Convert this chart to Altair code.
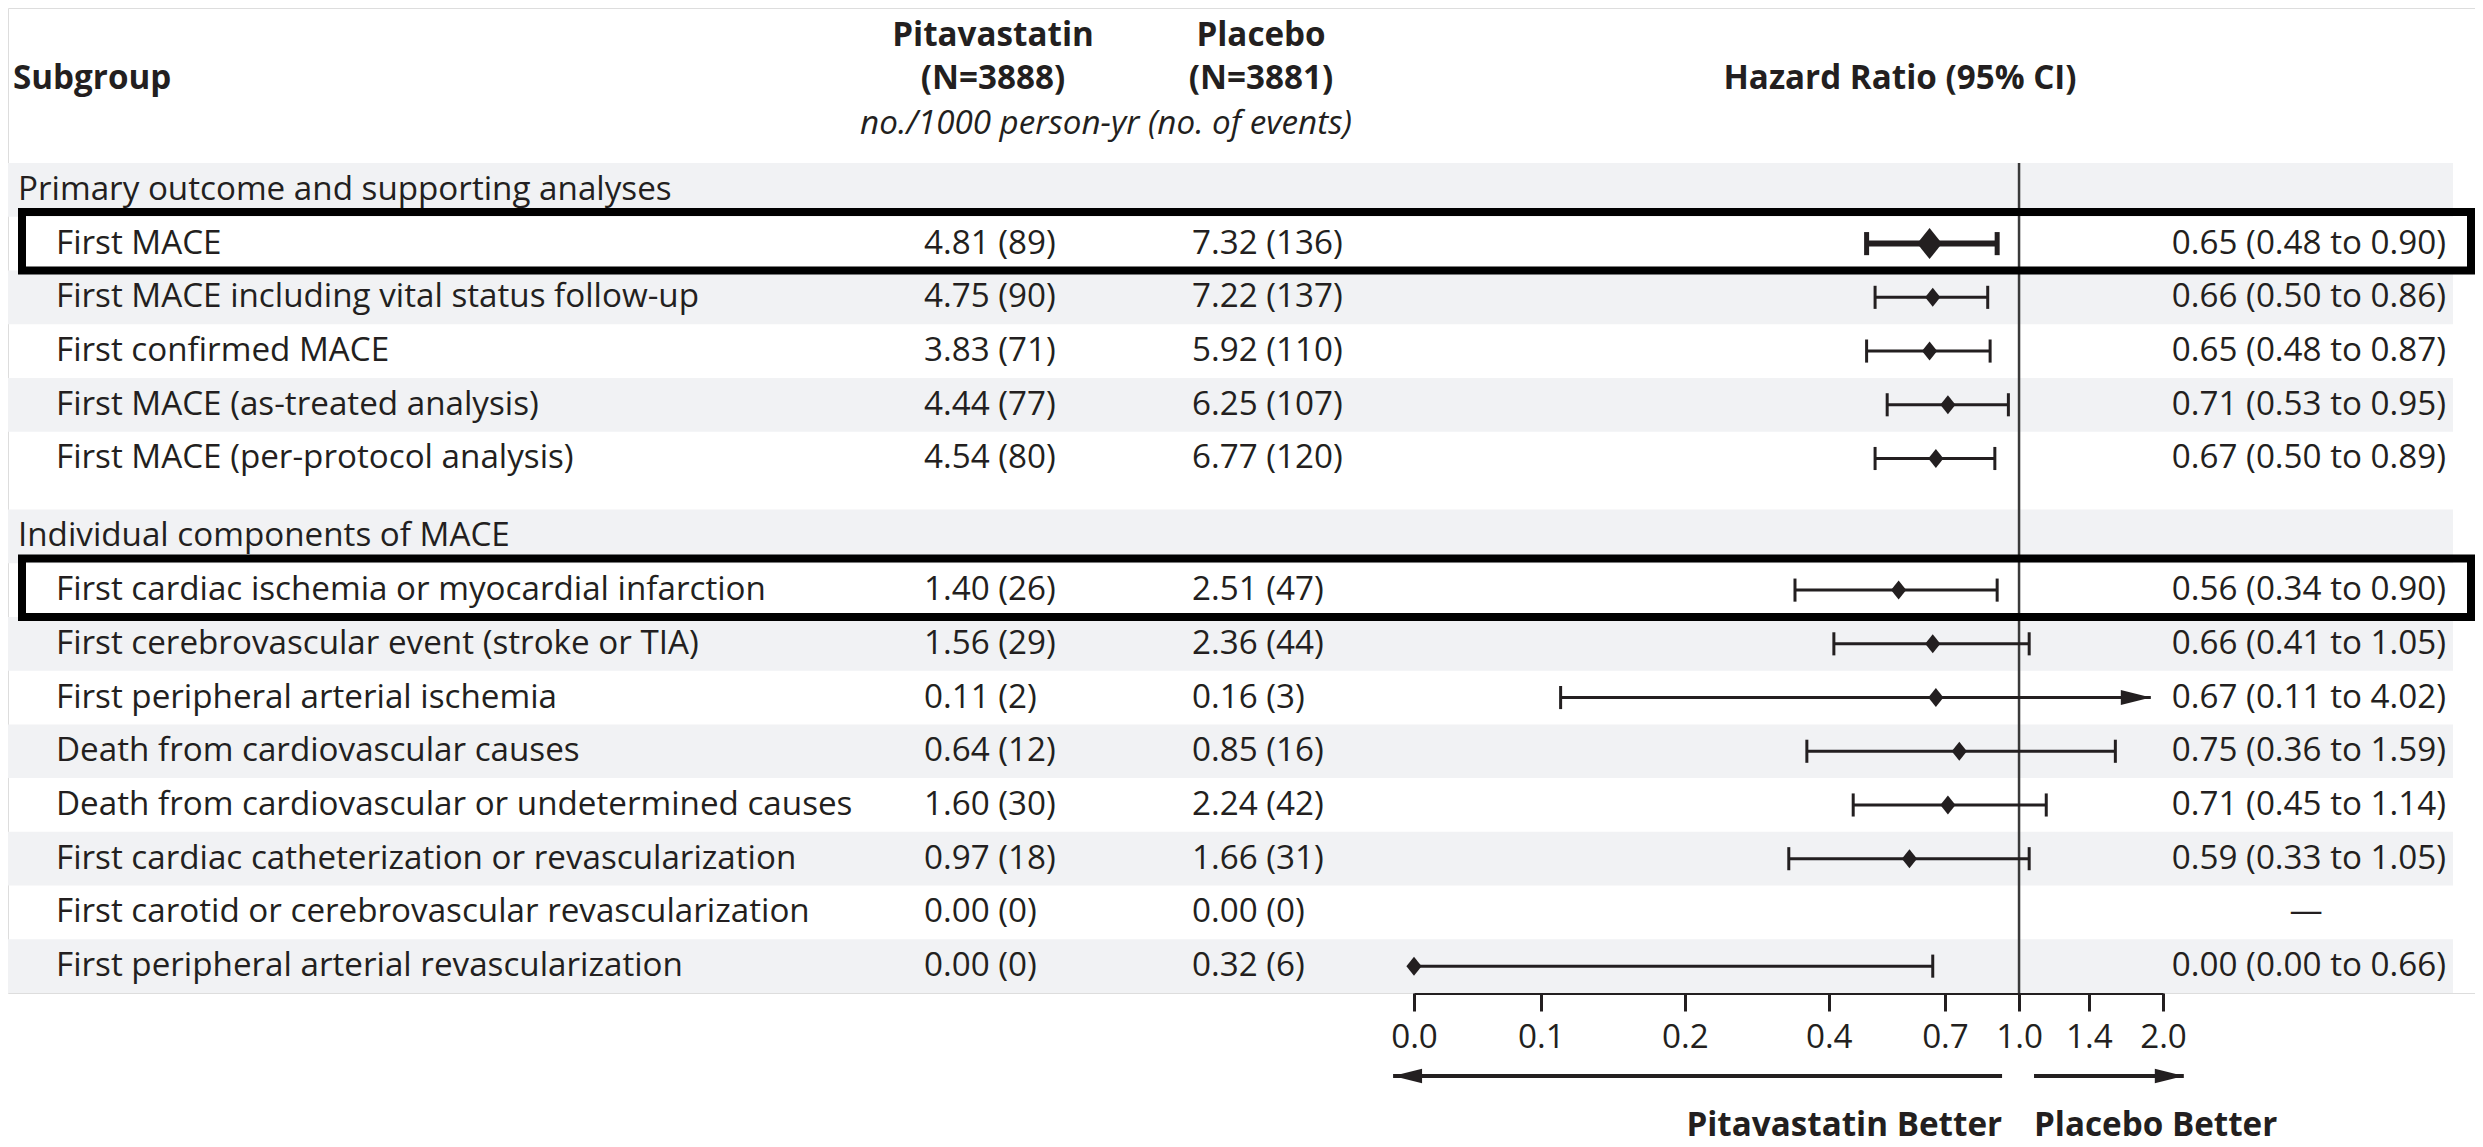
import altair as alt
import pandas as pd

# ---------------- data ----------------
section_titles = ["Primary outcome and supporting analyses", "Individual components of MACE"]
section_sizes = [5, 8]
subgroups = [
    "First MACE",
    "First MACE including vital status follow-up",
    "First confirmed MACE",
    "First MACE (as-treated analysis)",
    "First MACE (per-protocol analysis)",
    "First cardiac ischemia or myocardial infarction",
    "First cerebrovascular event (stroke or TIA)",
    "First peripheral arterial ischemia",
    "Death from cardiovascular causes",
    "Death from cardiovascular or undetermined causes",
    "First cardiac catheterization or revascularization",
    "First carotid or cerebrovascular revascularization",
    "First peripheral arterial revascularization",
]
pita_rate = [4.81, 4.75, 3.83, 4.44, 4.54, 1.40, 1.56, 0.11, 0.64, 1.60, 0.97, 0.00, 0.00]
pita_events = [89, 90, 71, 77, 80, 26, 29, 2, 12, 30, 18, 0, 0]
plac_rate = [7.32, 7.22, 5.92, 6.25, 6.77, 2.51, 2.36, 0.16, 0.85, 2.24, 1.66, 0.00, 0.32]
plac_events = [136, 137, 110, 107, 120, 47, 44, 3, 16, 42, 31, 0, 6]
hr = [0.65, 0.66, 0.65, 0.71, 0.67, 0.56, 0.66, 0.67, 0.75, 0.71, 0.59, None, 0.00]
ci_low = [0.48, 0.50, 0.48, 0.53, 0.50, 0.34, 0.41, 0.11, 0.36, 0.45, 0.33, None, 0.00]
ci_high = [0.90, 0.86, 0.87, 0.95, 0.89, 0.90, 1.05, 4.02, 1.59, 1.14, 1.05, None, 0.66]
boxed = ["First MACE", "First cardiac ischemia or myocardial infarction"]
primary = "First MACE"
axis_ticks = [0.0, 0.1, 0.2, 0.4, 0.7, 1.0, 1.4, 2.0]
header_subgroup = "Subgroup"
header_pita = ["Pitavastatin", "(N=3888)"]
header_plac = ["Placebo", "(N=3881)"]
header_units = "no./1000 person-yr (no. of events)"
header_hr = "Hazard Ratio (95% CI)"
direction_labels = ["Pitavastatin Better", "Placebo Better"]
no_estimate = "\u2014"

# ---------------- layout / style ----------------
FONT = "Open Sans"
FS = 33.2
INK = "#231f20"
BAND = "#f1f2f4"
W = 2467
TOTAL_H = 1139        # whole svg height
ROW = 53.7            # px per table row
TOP = 2.886           # rows of header space above the first band
GAP = 0.45            # blank space between sections (in rows)
X_ZERO = 0.0543       # where the "0.0" tick sits on the log axis
X_ARROW = 1.886       # where an interval running past 2.0 is cut and arrowed
X_RANGE = [1406, 2155]
HEAD_Y = [-2.36, -1.56, -0.72]
BAND_X2 = 2445
BOX_X, BOX_X2 = 14, 2463
ARROW_Y = 1068
DIR_Y = 1128

# ---------------- build tables ----------------
rows, secs, bands = [], [], []
pos = 0.0
k = 0
for s, (title, n) in enumerate(zip(section_titles, section_sizes)):
    if s > 0:
        pos += GAP
    secs.append({"y": pos + 0.5, "title": title})
    bands.append(pos)
    pos += 1
    for j in range(n):
        rows.append({
            "top": pos,
            "y": pos + 0.5,
            "label": subgroups[k],
            "pita": f"{pita_rate[k]:.2f} ({pita_events[k]})",
            "plac": f"{plac_rate[k]:.2f} ({plac_events[k]})",
            "hr": hr[k], "lo": ci_low[k], "hi": ci_high[k],
            "primary": subgroups[k] == primary,
            "boxed": subgroups[k] in boxed,
        })
        if j % 2 == 1:
            bands.append(pos)
        pos += 1
        k += 1
total = pos
H = round((TOP + total) * ROW)
PAD_B = TOTAL_H - H

rows_df = pd.DataFrame(rows)
rows_df["has_hr"] = [r["hr"] is not None for r in rows]
rows_df["hrtext"] = [
    f"{r['hr']:.2f} ({r['lo']:.2f} to {r['hi']:.2f})" if r["hr"] is not None else no_estimate
    for r in rows
]
sec_df = pd.DataFrame(secs)
band_df = pd.DataFrame({"y": bands, "y2": [b + 1 for b in bands]})
box_df = rows_df[rows_df["boxed"]][["top"]].copy()
box_df["y"] = box_df["top"] - 0.09
box_df["y2"] = box_df["top"] + 1.0

forest = pd.DataFrame([r for r in rows if r["hr"] is not None])
forest["hr_plot"] = forest["hr"].clip(lower=X_ZERO)
forest["lo_plot"] = forest["lo"].clip(lower=X_ZERO)
forest["hi_plot"] = forest["hi"].clip(upper=X_ARROW)

caps = []
for r in forest.to_dict("records"):
    if r["lo"] > 0:
        caps.append({"x": r["lo"], "y": r["y"], "primary": r["primary"]})
    if r["hi"] <= 2.0:
        caps.append({"x": r["hi"], "y": r["y"], "primary": r["primary"]})
caps_df = pd.DataFrame(caps)

ref_df = pd.DataFrame({"x": [1.0], "y": [0.0], "y2": [total]})
dir_df = pd.DataFrame({"x": [0.9215, 1.0748], "x2": [0.0491, 2.2107], "text": direction_labels,
                       "side": ["left", "right"]})

head_df = pd.DataFrame([
    {"text": header_pita[0], "y": HEAD_Y[0], "col": "pita"},
    {"text": header_pita[1], "y": HEAD_Y[1], "col": "pita"},
    {"text": header_plac[0], "y": HEAD_Y[0], "col": "plac"},
    {"text": header_plac[1], "y": HEAD_Y[1], "col": "plac"},
])

# ---------------- scales ----------------
yscale = alt.Scale(domain=[-TOP, total], reverse=True, nice=False, zero=False)
xscale = alt.Scale(type="log", domain=[X_ZERO, 2.0], range=X_RANGE, nice=False)
tick_vals = [max(t, X_ZERO) for t in axis_ticks]
xaxis = alt.Axis(
    values=tick_vals,
    labelExpr="datum.value < 0.06 ? '0.0' : format(datum.value, '.1f')",
    title="", grid=False, tickSize=18, tickWidth=3, domainWidth=3,
    tickColor=INK, domainColor=INK, labelColor=INK, labelFont=FONT,
    labelFontSize=FS, labelPadding=10, labelOverlap=False, labelFlush=False,
    labelBound=False,
)


def Y(field="y"):
    return alt.Y(f"{field}:Q", scale=yscale, axis=None)


def X(field):
    return alt.X(f"{field}:Q", scale=xscale, axis=xaxis)


def text_layer(df, field, x, align="left", weight="normal", style="normal", yfield="y"):
    return alt.Chart(df).mark_text(
        align=align, baseline="middle", font=FONT, fontSize=FS, color=INK,
        fontWeight=weight, fontStyle=style,
    ).encode(x=alt.value(x), y=Y(yfield), text=f"{field}:N")


bands_layer = alt.Chart(band_df).mark_rect(color=BAND).encode(
    x=alt.value(0), x2=alt.value(BAND_X2), y=Y(), y2="y2:Q")

ref_layer = alt.Chart(ref_df).mark_rule(color="#3a3a3a", strokeWidth=2.5).encode(
    x=X("x"), y=Y(), y2="y2:Q")

ci_layer = alt.Chart(forest).mark_rule(color=INK).encode(
    x=X("lo_plot"), x2="hi_plot:Q", y=Y(),
    strokeWidth=alt.condition("datum.primary", alt.value(6), alt.value(3)))

cap_layer = alt.Chart(caps_df).transform_calculate(
    ya="datum.y - 0.215", yb="datum.y + 0.215"
).mark_rule(color=INK).encode(
    x=X("x"), y=Y("ya"), y2="yb:Q",
    strokeWidth=alt.condition("datum.primary", alt.value(5), alt.value(3)))

diamond_layer = alt.Chart(forest).mark_point(
    shape="M0,-1L0.8,0L0,1L-0.8,0Z", filled=True, opacity=1, color=INK, strokeWidth=0
).encode(x=X("hr_plot"), y=Y(),
         size=alt.condition("datum.primary", alt.value(961), alt.value(361)))

overflow_layer = alt.Chart(forest).transform_filter("datum.hi > 2").mark_point(
    shape="M-2,-0.5L0,0L-2,0.5Z", filled=True, opacity=1, color=INK, strokeWidth=0, size=900
).encode(x=X("hi_plot"), y=Y())

dir_line = alt.Chart(dir_df).mark_rule(color=INK, strokeWidth=4).encode(
    x=X("x"), x2="x2:Q", y=alt.value(ARROW_Y))
dir_head_l = alt.Chart(dir_df).transform_filter("datum.side == 'left'").mark_point(
    shape="M2,-0.5L0,0L2,0.5Z", filled=True, opacity=1, color=INK, strokeWidth=0, size=841
).encode(x=X("x2"), y=alt.value(ARROW_Y))
dir_head_r = alt.Chart(dir_df).transform_filter("datum.side == 'right'").mark_point(
    shape="M-2,-0.5L0,0L-2,0.5Z", filled=True, opacity=1, color=INK, strokeWidth=0, size=841
).encode(x=X("x2"), y=alt.value(ARROW_Y))
dir_text_l = alt.Chart(dir_df).transform_filter("datum.side == 'left'").mark_text(
    align="right", baseline="alphabetic", font=FONT, fontSize=FS, fontWeight="bold", color=INK
).encode(x=X("x"), y=alt.value(DIR_Y), text="text:N")
dir_text_r = alt.Chart(dir_df).transform_filter("datum.side == 'right'").mark_text(
    align="left", baseline="alphabetic", font=FONT, fontSize=FS, fontWeight="bold", color=INK
).encode(x=X("x"), y=alt.value(DIR_Y), text="text:N")

sec_text = text_layer(sec_df, "title", 10)
label_text = text_layer(rows_df, "label", 48)
pita_text = text_layer(rows_df, "pita", 916)
plac_text = text_layer(rows_df, "plac", 1184)
hr_text = text_layer(rows_df[rows_df["has_hr"]], "hrtext", 2438, align="right")
dash_text = text_layer(rows_df[~rows_df["has_hr"]], "hrtext", 2298, align="center")

head_pita = text_layer(head_df[head_df["col"] == "pita"], "text", 985, align="center", weight="bold")
head_plac = text_layer(head_df[head_df["col"] == "plac"], "text", 1253, align="center", weight="bold")
head_sub = text_layer(pd.DataFrame({"text": [header_subgroup], "y": [HEAD_Y[1]]}), "text", 5, weight="bold")
head_hr = text_layer(pd.DataFrame({"text": [header_hr], "y": [HEAD_Y[1]]}), "text", 1892,
                     align="center", weight="bold")
head_units = text_layer(pd.DataFrame({"text": [header_units], "y": [HEAD_Y[2]]}), "text", 1098,
                        align="center", style="italic")

box_layer = alt.Chart(box_df).mark_rect(fillOpacity=0, stroke="#000000", strokeWidth=8).encode(
    x=alt.value(BOX_X), x2=alt.value(BOX_X2), y=Y(), y2="y2:Q")

chart = alt.layer(
    bands_layer, ref_layer, ci_layer, cap_layer, diamond_layer, overflow_layer,
    dir_line, dir_head_l, dir_head_r, dir_text_l, dir_text_r,
    sec_text, label_text, pita_text, plac_text, hr_text, dash_text,
    head_pita, head_plac, head_sub, head_hr, head_units,
    box_layer,
).properties(
    width=W, height=H,
    padding={"left": 0, "top": 0, "right": 0, "bottom": PAD_B},
    autosize=alt.AutoSizeParams(type="none"),
    background="white",
).configure_view(strokeWidth=0).configure(font=FONT)

chart.save("out.html", embed_options={"renderer": "svg", "actions": False})
